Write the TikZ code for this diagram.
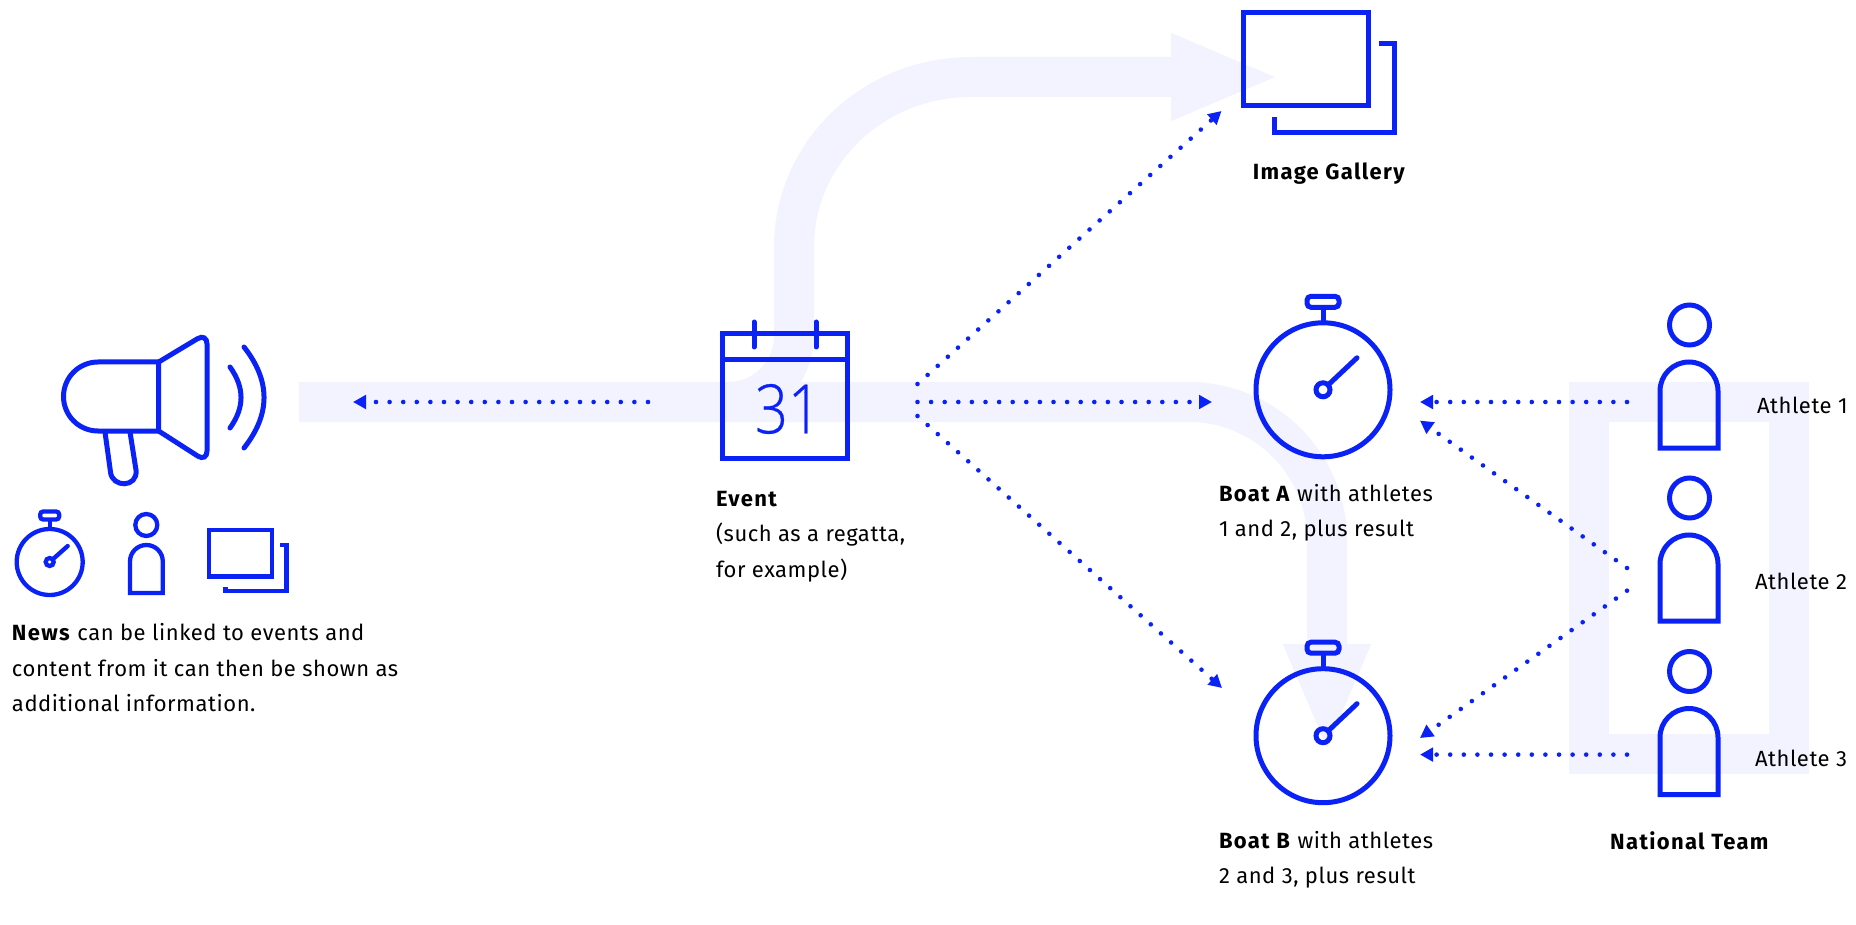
\documentclass[tikz,border=0pt]{standalone}
\usepackage{fontspec}
\setmainfont{Fira Sans}[LetterSpace=2.5,BoldFeatures={LetterSpace=6}]
\newfontfamily\calfont{Open Sans Light}[FakeStretch=0.85,FakeBold=0.4]
\usetikzlibrary{arrows.meta}
\definecolor{iconblue}{HTML}{0A22F5}
\definecolor{bandblue}{HTML}{F2F3FE}

\begin{document}
\begin{tikzpicture}
  [x=1pt,y=-1pt,every node/.style={inner sep=0pt,outer sep=0pt,align=left,font=\fontsize{22}{35.5}\selectfont}]
 \tikzset{iconline/.style={draw=iconblue,line width=5pt},
  smallline/.style={draw=iconblue,line width=4.3pt},
  band/.style={draw=bandblue,line width=40pt},
  bandtip/.style={-{Triangle[length=109pt,width=79pt]}},
  dots/.style={draw=iconblue,line width=4.6pt,line cap=round,dash pattern=on 0pt off 13.6pt,
   -{Triangle[length=13pt,width=13.5pt,fill=iconblue]}},
  face/.style={circle,iconline,minimum size=134pt},
  hub/.style={circle,iconline,minimum size=14pt},
  crown/.style={rectangle,iconline,rounded corners=4pt,minimum width=32pt,minimum height=11pt},
  head/.style={circle,iconline,minimum size=40pt}}
 \useasboundingbox (0,0) rectangle (1856,925);

 \coordinate (b1) at (299,402);
 \coordinate (b2) at (1327,753);
 \coordinate (b3) at (728,402);
 \coordinate (b4) at (1280,77);
  
 \draw[band,bandtip] (b1) -- (1189,402) .. controls (1265,402) and (1327,464) .. (1327,540) -- (b2);
 \draw[band,bandtip] (b3) .. controls (764.5,402) and (794,372.5) .. (794,336) -- (794,247)
   .. controls (794,153) and (873,77) .. (971,77) -- (b4);
 \draw[band] (1589,402) rectangle (1789,754);

 % megaphone
 \draw[iconline] (158.7,362) -- (98,362) arc [start angle=270,end angle=90,radius=34.5] -- (158.7,431) -- cycle;
 \draw[iconline,rounded corners=11pt] (158.7,362) -- (207,333) -- (207,462) -- (158.7,431);
 \draw[iconline] (105,432) -- (110.5,472) .. controls (112,488) and (138,488) .. (136,470) -- (130,432);
 \draw[iconline,line cap=round] (230,367) .. controls (244.7,387.7) and (244.7,407.3) .. (230,428);
 \draw[iconline,line cap=round] (244,347) .. controls (270.7,381) and (270.7,414) .. (244,448);

 % small icons
 \node[circle,smallline,minimum size=66pt] (n1) at (49.7,562) {};
 \node[rectangle,smallline,rounded corners=3pt,minimum width=19pt,minimum height=8pt] (n2) at (49.7,515.5) {};
 \node[circle,smallline,minimum size=8pt] (n3) at (49.7,562) {};
 \coordinate (n4) at (67.7,546);
 \draw[smallline] (n2) -- (n1);
 \draw[smallline,line cap=round] (n3) -- (n4);
 \node[circle,smallline,minimum size=22pt] (n5) at (146.3,525) {};
 \draw[smallline] (130,593) -- (130,561.4) arc [start angle=180,end angle=360,radius=16.4] -- (162.7,593) -- cycle;
 \draw[smallline] (209,530) rectangle (272,576.5);
 \draw[smallline] (280.3,545) -- (286.5,545) -- (286.5,591) -- (225.5,591) -- (225.5,586.7);

 % calendar
 \node[rectangle,iconline,minimum width=124.5pt,minimum height=124.5pt] (n6) at (785.2,396.2) {};
 \coordinate (n7) at (n6.north west |- 0,360);
 \coordinate (n8) at (n6.north east |- 0,360);
 \draw[iconline] (n7) -- (n8);
 \foreach \x in {754,816}
    \draw[iconline,line cap=round] (\x,322) -- (\x,347);
 \node[text=iconblue,font=\fontsize{68}{68}\calfont] (n9) at (788,409) {31};

 % gallery
 \draw[iconline] (1243,13) rectangle (1368,105.5);
 \draw[iconline] (1378.5,43.5) -- (1394.5,43.5) -- (1394.5,133) -- (1274,133) -- (1274,117);

 % watches
 \foreach \i/\wy in {A/389.8,B/735.7}{
  \node[face] (n\i1) at (1323,\wy) {};
  \node[hub] (n\i2) at (1323,\wy) {};
  \node[crown] (n\i3) at (1323,{\wy-88}) {};
  \coordinate (n\i4) at (1357,{\wy-32});
  \draw[iconline] (n\i3) -- (n\i1);
  \draw[iconline,line cap=round] (n\i2) -- (n\i4);
 }

 % athletes
 \foreach \i/\py in {1/0,2/173,3/346.5}{
  \node[head] (p\i) at (1689.5,{325+\py}) {};
  \draw[iconline] (1660,{448+\py}) -- (1660,{391+\py}) arc [start angle=180,end angle=360,radius=29] -- (1718,{448+\py}) -- cycle;
 }

 % dotted links
 \coordinate (s1) at (648,402);   \coordinate (t1) at (353,402);
 \coordinate (s2) at (917.5,402); \coordinate (t2) at (1212,402);
 \coordinate (s3) at (917.5,384); \coordinate (t3) at (1221.5,111);
 \coordinate (s4) at (917.5,416); \coordinate (t4) at (1222,688);
 \coordinate (s5) at (1627,402);  \coordinate (t5) at (1420,402);
 \coordinate (s6) at (1627,568);  \coordinate (t6) at (1420,420.6);
 \coordinate (s7) at (1627,590.7); \coordinate (t7) at (1420,738);
 \coordinate (s8) at (1627,754.6); \coordinate (t8) at (1420,754.6);
 \foreach \from/\to in {s1/t1,s2/t2,s3/t3,s4/t4,s5/t5,s6/t6,s7/t7,s8/t8}
    \draw[dots] (\from) -- (\to);

 % labels
 \node[anchor=base west] (l1) at (12,711.7) {\textbf{News} can be linked to events and\\content from it can then be shown as\\additional information.};
 \node[anchor=base west] (l2) at (716,577) {\textbf{Event}\\(such as a regatta,\\for example)};
 \node[anchor=base west] (l3) at (1219,536.5) {\textbf{Boat A} with athletes\\1 and 2, plus result};
 \node[anchor=base west] (l4) at (1219,883.5) {\textbf{Boat B} with athletes\\2 and 3, plus result};
 \node[anchor=base] (l5) at (1329.5,180) {\textbf{Image Gallery}};
 \node[anchor=base] (l6) at (1690,849) {\textbf{National Team}};
 \node[anchor=base west] (l7) at (1757,413.4) {Athlete 1};
 \node[anchor=base west] (l8) at (1755,589.6) {Athlete 2};
 \node[anchor=base west] (l9) at (1755,766) {Athlete 3};

\end{tikzpicture}
\end{document}
